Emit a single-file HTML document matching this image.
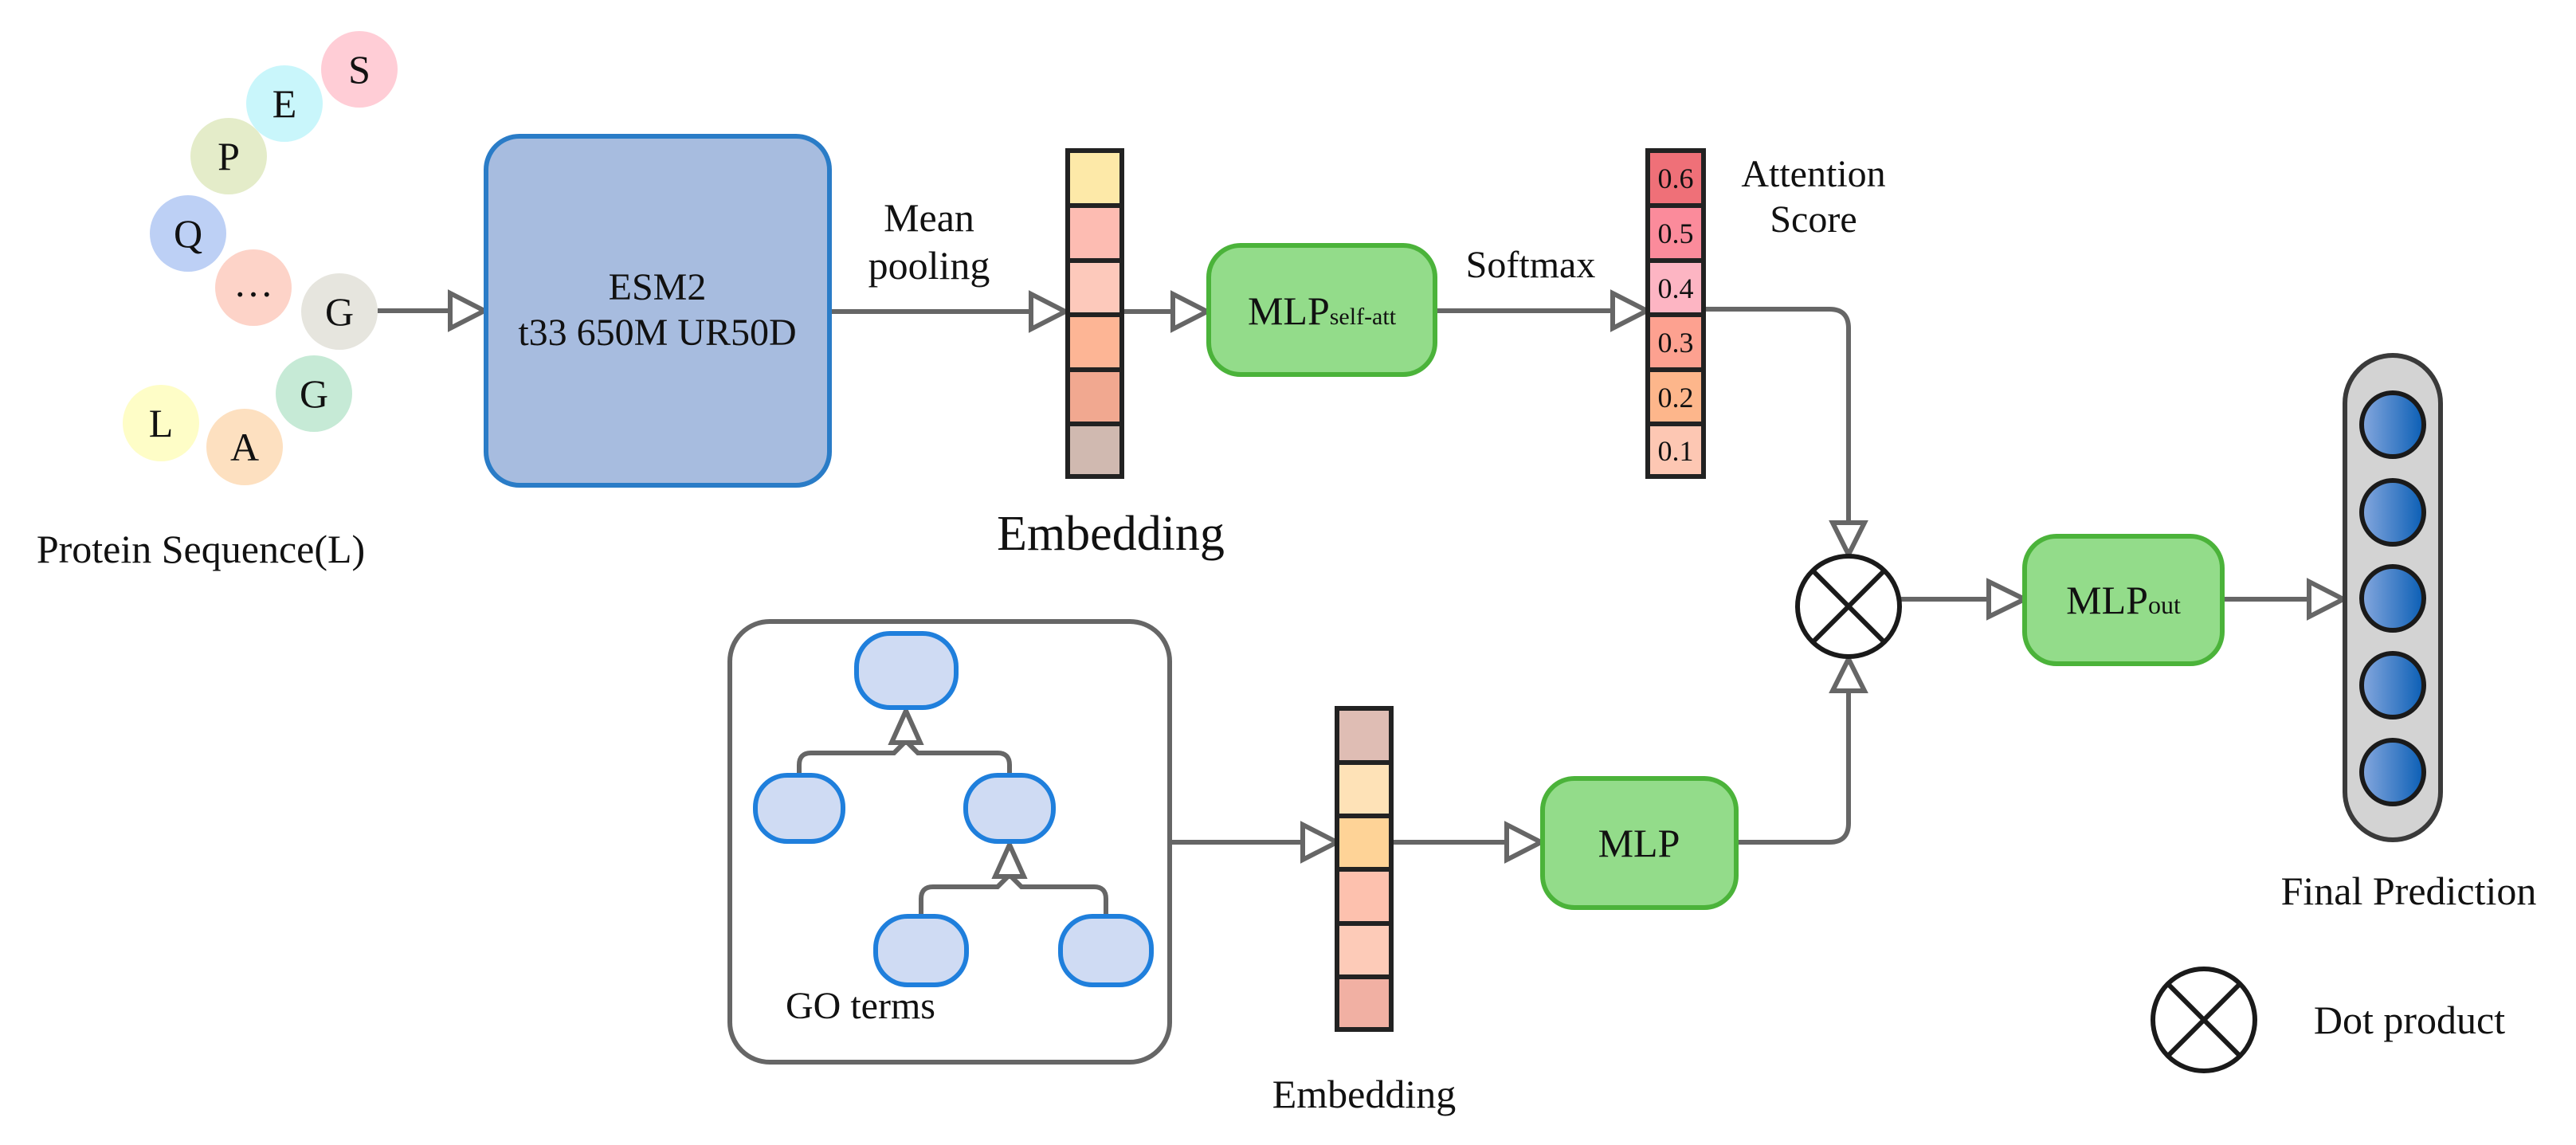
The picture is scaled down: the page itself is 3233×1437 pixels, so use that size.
<!DOCTYPE html>
<html><head><meta charset="utf-8"><style>
html,body{margin:0;padding:0;background:#fff;}
svg{display:block;font-family:"Liberation Serif","DejaVu Serif",serif;}
svg text{font-family:"Liberation Serif","DejaVu Serif",serif;fill:#111;}
</style></head><body>
<svg width="3233" height="1437" viewBox="0 0 3233 1437" xmlns="http://www.w3.org/2000/svg" font-family="Liberation Serif, DejaVu Serif, serif">
<defs>
<linearGradient id="bg" x1="0" x2="1" y1="0" y2="0">
<stop offset="0" stop-color="#86a8de"/><stop offset="1" stop-color="#0a5eb5"/>
</linearGradient>
</defs>
<g font-size="50" text-anchor="middle">
<circle cx="451" cy="87" r="48" fill="#ffcdd6"/><text x="451" y="104">S</text>
<circle cx="357" cy="130" r="48" fill="#c9f6fb"/><text x="357" y="147">E</text>
<circle cx="287" cy="196" r="48" fill="#e4ecc9"/><text x="287" y="213">P</text>
<circle cx="236" cy="293" r="48" fill="#bdd0f5"/><text x="236" y="310">Q</text>
<circle cx="318" cy="361" r="48" fill="#fdd3c8"/><text x="318" y="372">…</text>
<circle cx="426" cy="391" r="48" fill="#e6e5de"/><text x="426" y="408">G</text>
<circle cx="394" cy="494" r="48" fill="#c6ead6"/><text x="394" y="511">G</text>
<circle cx="202" cy="531" r="48" fill="#fefdc7"/><text x="202" y="548">L</text>
<circle cx="307" cy="561" r="48" fill="#fde0c0"/><text x="307" y="578">A</text>
</g>
<text x="252" y="706" font-size="50" text-anchor="middle">Protein Sequence(L)</text>

<g stroke="#666" stroke-width="6" fill="none">
<line x1="474" y1="390" x2="565" y2="390"/>
<line x1="1043" y1="391" x2="1294" y2="391"/>
<line x1="1410" y1="391" x2="1472" y2="391"/>
<line x1="1803" y1="390" x2="2024" y2="390"/>
<path d="M2140 388 H2296 Q2320 388 2320 412 V656"/>
<path d="M2181 1057 H2296 Q2320 1057 2320 1033 V867"/>
<line x1="2386" y1="752" x2="2496" y2="752"/>
<line x1="2790" y1="752" x2="2898" y2="752"/>
<line x1="1470" y1="1057" x2="1635" y2="1057"/>
<line x1="1748" y1="1057" x2="1891" y2="1057"/>
</g>
<g stroke="#666" stroke-width="6" fill="#fff" stroke-linejoin="miter">
<polygon points="565,368 608,390 565,412"/>
<polygon points="1294,369 1337,391 1294,413"/>
<polygon points="1472,369 1515,391 1472,413"/>
<polygon points="2024,368 2067,390 2024,412"/>
<polygon points="2300,656 2320,696 2340,656"/>
<polygon points="2300,867 2320,827 2340,867"/>
<polygon points="2496,730 2541,752 2496,774"/>
<polygon points="2898,730 2941,752 2898,774"/>
<polygon points="1635,1035 1678,1057 1635,1079"/>
<polygon points="1891,1035 1934,1057 1891,1079"/>
</g>

<rect x="610" y="171" width="431" height="438" rx="42" fill="#a7bcdf" stroke="#2a7cc7" stroke-width="6"/>
<text x="825" y="376" font-size="48" text-anchor="middle">ESM2</text>
<text x="825" y="433" font-size="48" text-anchor="middle">t33 650M UR50D</text>
<text x="1166" y="290" font-size="50" text-anchor="middle">Mean</text>
<text x="1166" y="350" font-size="50" text-anchor="middle">pooling</text>

<g stroke="#222" stroke-width="6">
<rect x="1340" y="189" width="68" height="69" fill="#fde9a8"/>
<rect x="1340" y="258" width="68" height="69" fill="#fdbcb2"/>
<rect x="1340" y="327" width="68" height="68" fill="#fdc9bb"/>
<rect x="1340" y="395" width="68" height="69" fill="#fdb595"/>
<rect x="1340" y="464" width="68" height="68" fill="#f1a890"/>
<rect x="1340" y="532" width="68" height="66" fill="#d0b9b0"/>
</g>
<text x="1394" y="690" font-size="62" text-anchor="middle">Embedding</text>

<rect x="1517" y="308" width="284" height="162" rx="40" fill="#93dc8a" stroke="#4bb33a" stroke-width="6"/>
<text x="1659" y="407" font-size="50" text-anchor="middle">MLP<tspan font-size="30">self-att</tspan></text>
<text x="1921" y="348" font-size="48" text-anchor="middle">Softmax</text>

<g stroke="#222" stroke-width="6">
<rect x="2068" y="189" width="70" height="69" fill="#ef7078"/>
<rect x="2068" y="258" width="70" height="69" fill="#fb8b9b"/>
<rect x="2068" y="327" width="70" height="68" fill="#fdb5c3"/>
<rect x="2068" y="395" width="70" height="69" fill="#fda190"/>
<rect x="2068" y="464" width="70" height="68" fill="#fdb68b"/>
<rect x="2068" y="532" width="70" height="66" fill="#fdc7b3"/>
</g>
<g font-size="36" text-anchor="middle">
<text x="2103" y="236">0.6</text><text x="2103" y="305">0.5</text><text x="2103" y="374">0.4</text>
<text x="2103" y="442">0.3</text><text x="2103" y="511">0.2</text><text x="2103" y="578">0.1</text>
</g>
<text x="2276" y="234" font-size="48" text-anchor="middle">Attention</text>
<text x="2276" y="291" font-size="48" text-anchor="middle">Score</text>

<g stroke="#1a1a1a" stroke-width="6" fill="#fff">
<ellipse cx="2320" cy="761" rx="64" ry="63"/>
<line x1="2275" y1="716" x2="2365" y2="806"/>
<line x1="2365" y1="716" x2="2275" y2="806"/>
<ellipse cx="2766" cy="1280" rx="64" ry="64"/>
<line x1="2721" y1="1235" x2="2811" y2="1325"/>
<line x1="2811" y1="1235" x2="2721" y2="1325"/>
</g>
<text x="3024" y="1297" font-size="50" text-anchor="middle">Dot product</text>

<rect x="2541" y="673" width="248" height="160" rx="40" fill="#93dc8a" stroke="#4bb33a" stroke-width="6"/>
<text x="2665" y="770" font-size="50" text-anchor="middle">MLP<tspan font-size="32">out</tspan></text>

<rect x="2943" y="446" width="120" height="608" rx="60" fill="#d3d3d3" stroke="#3a3a3a" stroke-width="6"/>
<g stroke="#1a1a1a" stroke-width="6" fill="url(#bg)">
<ellipse cx="3003" cy="533" rx="39" ry="40"/>
<ellipse cx="3003" cy="643" rx="39" ry="40"/>
<ellipse cx="3003" cy="751" rx="39" ry="40"/>
<ellipse cx="3003" cy="860" rx="39" ry="40"/>
<ellipse cx="3003" cy="969" rx="39" ry="40"/>
</g>
<text x="3023" y="1135" font-size="50" text-anchor="middle">Final Prediction</text>

<rect x="916" y="780" width="552" height="553" rx="50" fill="#fff" stroke="#666" stroke-width="6"/>
<g stroke="#666" stroke-width="6" fill="none">
<path d="M1003 971 V960 Q1003 945 1018 945 H1122 L1137 930 L1152 945 H1252 Q1267 945 1267 960 V971"/>
<path d="M1156 1148 V1128 Q1156 1113 1171 1113 H1252 L1267 1098 L1282 1113 H1373 Q1388 1113 1388 1128 V1148"/>
<line x1="1137" y1="930" x2="1137" y2="893"/>
<line x1="1267" y1="1098" x2="1267" y2="1061"/>
</g>
<g stroke="#666" stroke-width="6" fill="#fff">
<polygon points="1119,932 1137,892 1155,932"/>
<polygon points="1249,1100 1267,1060 1285,1100"/>
</g>
<g fill="#cfdbf3" stroke="#1f7fdc" stroke-width="6">
<rect x="1075" y="795" width="125" height="93" rx="42"/>
<rect x="948" y="973" width="110" height="83" rx="40"/>
<rect x="1212" y="973" width="110" height="83" rx="40"/>
<rect x="1099" y="1150" width="114" height="86" rx="40"/>
<rect x="1331" y="1150" width="114" height="86" rx="40"/>
</g>
<text x="1080" y="1278" font-size="48" text-anchor="middle">GO terms</text>

<g stroke="#222" stroke-width="6">
<rect x="1678" y="889" width="68" height="68" fill="#dfbdb4"/>
<rect x="1678" y="957" width="68" height="67" fill="#fee2b7"/>
<rect x="1678" y="1024" width="68" height="67" fill="#fed397"/>
<rect x="1678" y="1091" width="68" height="68" fill="#fdc1ae"/>
<rect x="1678" y="1159" width="68" height="67" fill="#fdcbb8"/>
<rect x="1678" y="1226" width="68" height="66" fill="#f1b0a3"/>
</g>
<text x="1712" y="1390" font-size="50" text-anchor="middle">Embedding</text>

<rect x="1936" y="977" width="243" height="162" rx="40" fill="#93dc8a" stroke="#4bb33a" stroke-width="6"/>
<text x="2057" y="1075" font-size="50" text-anchor="middle">MLP</text>
</svg>
</body></html>
